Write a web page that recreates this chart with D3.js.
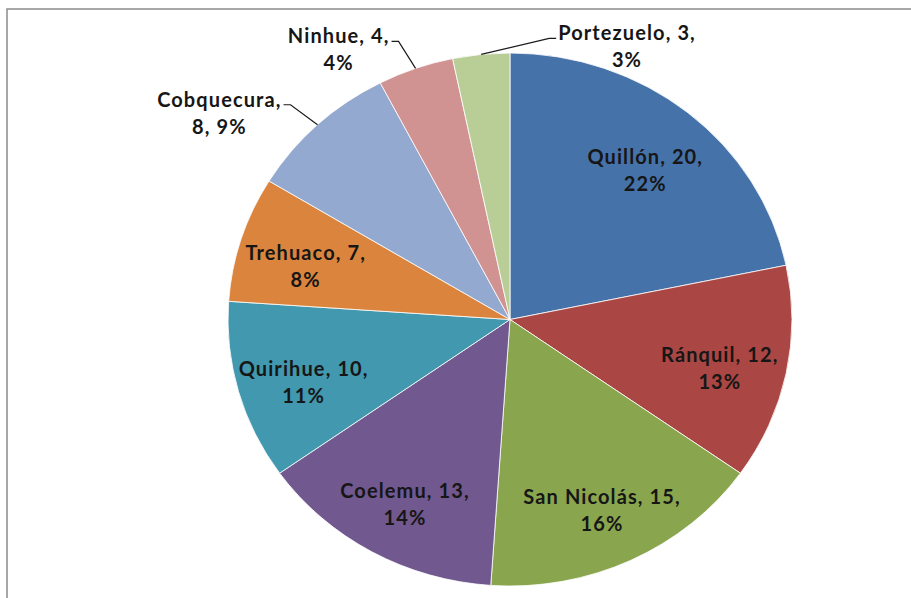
<!DOCTYPE html>
<html>
<head>
<meta charset="utf-8">
<script src="https://cdn.jsdelivr.net/npm/d3@7"></script>
<style>
  html, body { margin: 0; padding: 0; background: #fff; }
  svg { display: block; }
</style>
</head>
<body>
<svg id="chart" width="911" height="598"></svg>
<script>
// ---- data ----
const categories = ["Quillón", "Ránquil", "San Nicolás", "Coelemu", "Quirihue", "Trehuaco", "Cobquecura", "Ninhue", "Portezuelo"];
const values = [20, 12, 15, 13, 10, 7, 8, 4, 3];
const colors = ["#4672AA", "#AA4643", "#89A54E", "#71588F", "#4198AF", "#DB843D", "#93A9CF", "#D19392", "#B9CD96"];
const outsideLabels = ["Cobquecura", "Ninhue", "Portezuelo"];
const wrapAfterName = ["Cobquecura"];

// ---- layout ----
const svg = d3.select("#chart");
const W = 911, H = 598;
const cx = 510, cy = 319.5, rx = 282, ry = 266.5;
const sx = rx / ry;
const total = d3.sum(values);
const data = categories.map((c, i) => ({ name: c, value: values[i], color: colors[i] }));

// frame
svg.append("rect").attr("x", 7).attr("y", 9).attr("width", W + 20).attr("height", H + 20)
  .attr("fill", "#fff").attr("stroke", "#8c8c8c").attr("stroke-width", 1.5);

const pie = d3.pie().value(d => d.value).sort(null);
const arcs = pie(data);
const arc = d3.arc().innerRadius(0).outerRadius(ry);

const g = svg.append("g").attr("transform", `translate(${cx},${cy}) scale(${sx},1)`);
g.selectAll("path").data(arcs).join("path")
  .attr("d", arc)
  .attr("fill", d => d.data.color)
  .attr("stroke", "#fff")
  .attr("stroke-width", 0.8)
  .attr("vector-effect", "non-scaling-stroke");

const font = "Lato, 'Open Sans', sans-serif";
const fs = 20;
const ls = 1.1;
const lh = 27;
const txtColor = "#161616";

function linesFor(d) {
  const pct = Math.round(d.data.value / total * 100) + "%";
  if (wrapAfterName.includes(d.data.name)) return [d.data.name + ",", d.data.value + ", " + pct];
  return [d.data.name + ", " + d.data.value + ",", pct];
}

const labels = svg.append("g");
const labelArc = d3.arc().innerRadius(ry * 0.76).outerRadius(ry * 0.76);

// inside labels
arcs.filter(d => !outsideLabels.includes(d.data.name)).forEach(d => {
  const [x, y] = labelArc.centroid(d);
  const px = cx + x * sx, py = cy + y + 8;
  const lines = linesFor(d);
  const t = labels.append("text")
    .attr("font-family", font).attr("font-size", fs).attr("font-weight", 700)
    .attr("letter-spacing", ls)
    .attr("fill", txtColor).attr("text-anchor", "middle");
  lines.forEach((l, i) => {
    t.append("tspan").attr("x", px).attr("y", py + (i - (lines.length - 1) / 2) * lh)
      .attr("dy", "0.35em").text(l);
  });
});

// outside labels with leader lines
const elbowOffsets = { "Cobquecura": [-27, -20], "Ninhue": [-17, -27], "Portezuelo": [68, -16] };
arcs.filter(d => outsideLabels.includes(d.data.name)).forEach(d => {
  const a = (d.startAngle + d.endAngle) / 2;
  const ex = cx + rx * Math.sin(a), ey = cy - ry * Math.cos(a);
  const off = elbowOffsets[d.data.name];
  const bx = ex + off[0], by = ey + off[1];
  const left = bx < cx;
  const hx = bx + (left ? -7 : 7);
  labels.append("polyline")
    .attr("points", `${ex},${ey} ${bx},${by} ${hx},${by}`)
    .attr("fill", "none").attr("stroke", "#1a1a1a").attr("stroke-width", 1.2);
  const lines = linesFor(d);
  const t = labels.append("text")
    .attr("font-family", font).attr("font-size", fs).attr("font-weight", 700)
    .attr("letter-spacing", ls)
    .attr("fill", txtColor).attr("text-anchor", "middle");
  const spans = lines.map((l, i) => t.append("tspan").text(l));
  const w0 = spans[0].node().getComputedTextLength();
  const tx = left ? hx - 2 - w0 / 2 : hx + 2 + w0 / 2;
  const y0 = by - 5;
  spans.forEach((s, i) => s.attr("x", tx).attr("y", y0 + i * lh).attr("dy", "0.35em"));
});
</script>
</body>
</html>
